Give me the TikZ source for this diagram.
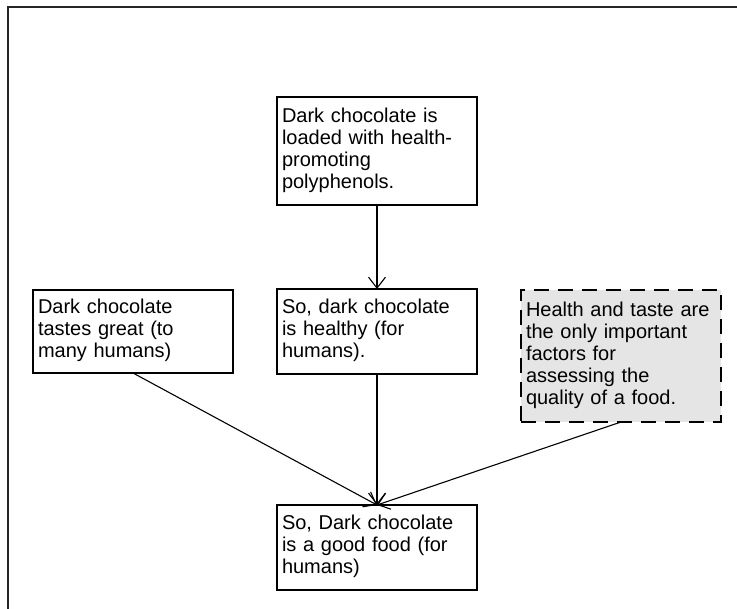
\documentclass[tikz,border=0pt]{standalone}
\usepackage{fontspec}
\setmainfont{Liberation Sans}
\usetikzlibrary{arrows.meta}

\begin{document}
\begin{tikzpicture}[x=1pt,y=-1pt,
  claim/.style={draw=black, line width=1.2pt, outer sep=0pt,
    anchor=north west, text width=190pt, inner xsep=5pt, inner ysep=0pt,
    align=left, font=\fontsize{20}{22}\selectfont},
  premise/.style={claim, fill=black!10, line width=1.5pt,
    dash pattern=on 15pt off 9pt},
  link/.style={draw=black, line width=1.1pt,
    -{Straight Barb[length=11pt, width=17pt, line width=1.1pt]}}]

  % canvas
  \useasboundingbox (0,0) rectangle (737,609);
  \fill[white] (0,0) rectangle (737,609);

  % frame edges
  \draw[black!85, line width=2pt] (7.5,609) -- (7.5,7.5) -- (737,7.5);

  % statements
  \node[claim, minimum height=108pt] (poly) at (277,97)
    {\strut Dark chocolate is\\loaded with health-\\promoting\\polyphenols.\strut};
  \node[claim, minimum height=85pt] (healthy) at (277,289)
    {\strut So, dark chocolate\\is healthy (for\\humans).\strut};
  \node[claim, minimum height=83pt] (taste) at (33,290)
    {\strut Dark chocolate\\tastes great (to\\many humans)\strut};
  \node[premise, minimum height=132pt] (factors) at (521,290)
    {\strut Health and taste are\\the only important\\factors for\\assessing the\\quality of a food.\strut};
  \node[claim, minimum height=85pt] (good) at (277,505)
    {\strut So, Dark chocolate\\is a good food (for\\humans)\strut};

  % inferences
  \draw[link] (poly.south) -- (healthy.north);
  \draw[link] (healthy.south) -- (good.north);
  \draw[link] (taste.south) -- (good.north);
  \draw[link] (factors.south) -- (good.north);
\end{tikzpicture}
\end{document}
